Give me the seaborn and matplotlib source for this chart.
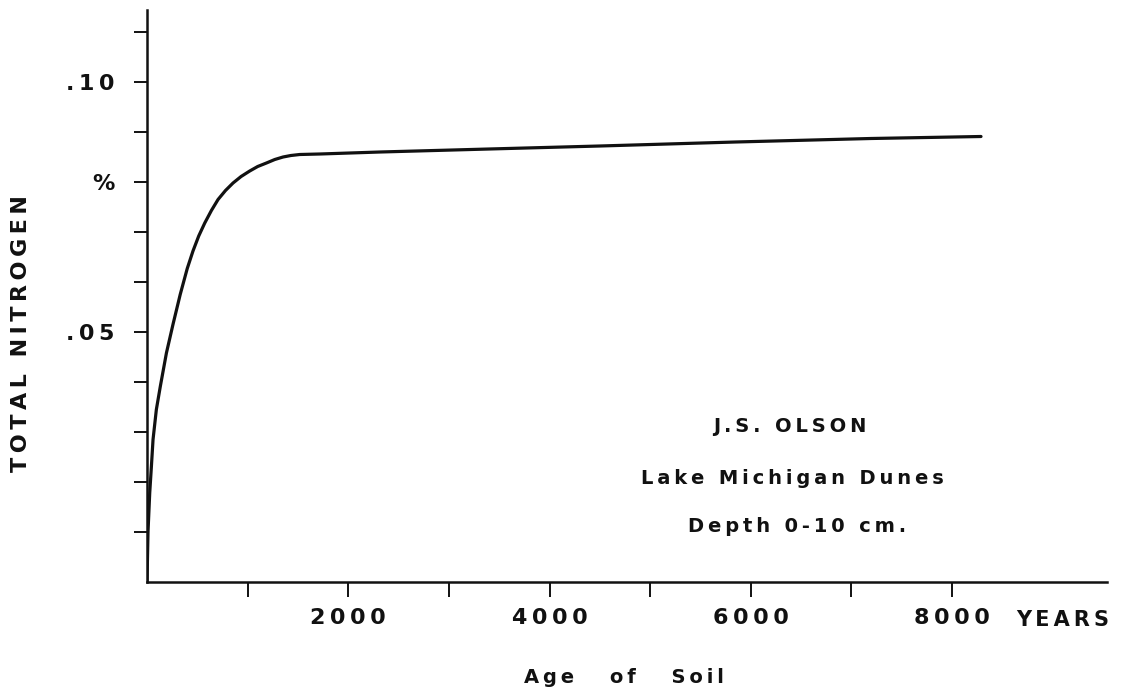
import numpy as np
import pandas as pd
import matplotlib
matplotlib.use('Agg')
import matplotlib.pyplot as plt
import seaborn as sns

# soil age (years) and total nitrogen (%)
age_years = [0, 10, 27, 44, 60, 93, 133, 193, 258, 330, 400, 457, 514, 574,
             640, 706, 780, 855, 935, 1021, 1100, 1187, 1270, 1352, 1430,
             1518, 1717, 2316, 3400, 4500, 5848, 7194, 8288]
total_n = [0.0, 0.0100, 0.0178, 0.0232, 0.0285, 0.0345, 0.0392, 0.0458,
           0.0515, 0.0575, 0.0627, 0.0662, 0.0692, 0.0718, 0.0743, 0.0765,
           0.0783, 0.0798, 0.0811, 0.0822, 0.0831, 0.0838, 0.0845, 0.0850,
           0.0853, 0.0855, 0.0856, 0.0860, 0.0866, 0.0872, 0.0880, 0.0887,
           0.0891]

x_ticks = [1000, 2000, 3000, 4000, 5000, 6000, 7000, 8000]
x_labels = ['', '2000', '', '4000', '', '6000', '', '8000']
y_ticks = [0.01, 0.02, 0.03, 0.04, 0.05, 0.06, 0.07, 0.08, 0.09, 0.10, 0.11]
y_labels = ['', '', '', '', '.05', '', '', '%', '', '.10', '']

note_lines = ['J.S. OLSON', 'Lake Michigan Dunes', 'Depth 0-10 cm.']

INK = '#111111'


def spread(s, gap='\u2009'):
    # hand lettering on the original is widely spaced
    return gap.join(s)


sns.set_style('ticks')
plt.rcParams['font.family'] = ['DejaVu Sans']
plt.rcParams['font.weight'] = 'bold'

df = pd.DataFrame({'age': age_years, 'nitrogen': total_n})

fig = plt.figure(figsize=(11.21, 6.88), dpi=100)
ax = fig.add_axes([147 / 1121, 1 - 582 / 688, 960 / 1121, 572 / 688])

sns.lineplot(data=df, x='age', y='nitrogen', ax=ax, color=INK, linewidth=2.3)

ax.set_xlim(0, 9540)
ax.set_ylim(0, 0.1144)
sns.despine(ax=ax)
for side in ['left', 'bottom']:
    ax.spines[side].set_linewidth(1.8)
    ax.spines[side].set_color(INK)

ax.set_xticks(x_ticks)
ax.set_xticklabels([spread(t) for t in x_labels])
ax.set_yticks(y_ticks)
ax.set_yticklabels([spread(t) for t in y_labels])
ax.tick_params(axis='x', direction='out', length=11, width=1.4, pad=8,
               labelsize=16, colors=INK)
ax.tick_params(axis='y', direction='out', length=9.5, width=1.4, pad=14,
               labelsize=16, colors=INK)

ax.set_xlabel(spread('Age   of   Soil'), fontsize=14, fontweight='bold',
              color=INK)
ax.xaxis.set_label_coords(0.497, -0.150)
ax.set_ylabel(spread('TOTAL NITROGEN'), fontsize=16, fontweight='bold',
              color=INK)
ax.yaxis.set_label_coords(-0.121, 0.435)

fig.text(1063 / 1121, 1 - 620 / 688, spread('YEARS'), fontsize=15,
         fontweight='bold', color=INK, ha='center', va='center')

note_x = [6390, 6410, 6460]
note_y = [0.031, 0.0206, 0.011]
for txt, nx, ny in zip(note_lines, note_x, note_y):
    ax.text(nx, ny, spread(txt), fontsize=14, fontweight='bold', color=INK,
            ha='center', va='center')

fig.savefig('out.png', dpi=100, facecolor='white')
